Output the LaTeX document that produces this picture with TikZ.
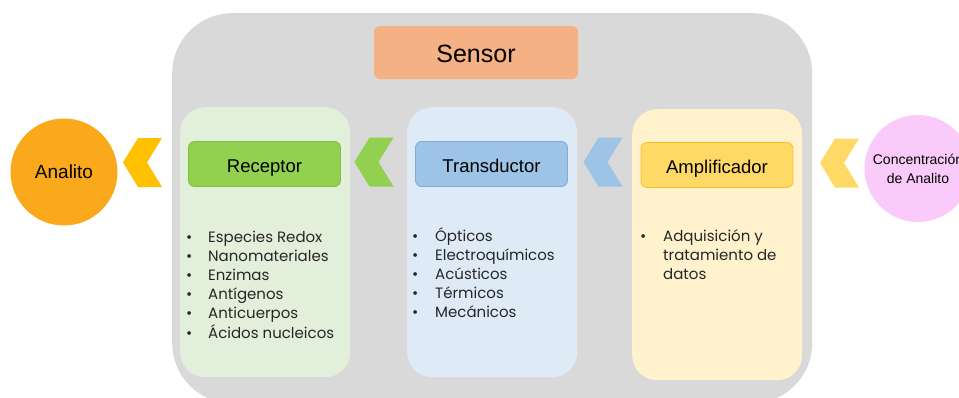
\documentclass[tikz,border=0pt]{standalone}
\usepackage{fontspec}
\setmainfont{Liberation Sans}
\newfontfamily\listfont{Poppins}
\definecolor{bggray}{HTML}{D9D9D9}
\definecolor{sensorfill}{HTML}{F4B183}
\definecolor{recfill}{HTML}{E2EFDA}
\definecolor{transfill}{HTML}{DEEBF7}
\definecolor{ampfill}{HTML}{FFF2CC}
\definecolor{rechdr}{HTML}{92D050}
\definecolor{rechdrline}{HTML}{7FBF3F}
\definecolor{transhdr}{HTML}{9DC3E6}
\definecolor{transhdrline}{HTML}{7FAADB}
\definecolor{amphdr}{HTML}{FFD966}
\definecolor{amphdrline}{HTML}{F2C230}
\definecolor{analitofill}{HTML}{FBA91C}
\definecolor{concfill}{HTML}{FACBFA}
\definecolor{chevyellow}{HTML}{FFC000}
\definecolor{chevgreen}{HTML}{92D050}
\definecolor{chevblue}{HTML}{9DC3E6}
\definecolor{chevlight}{HTML}{FFD966}
\definecolor{txt}{HTML}{262626}
\newcommand\chevron[3]{\fill[#3] (#1,#2) ++(19.5,-24.5) -- ++(-24,0) -- ++(-15,24.5) -- ++(15,24.5) -- ++(24,0) -- ++(-15,-24.5) -- cycle;}
\begin{document}
\begin{tikzpicture}[x=1pt,y=-1pt,
  colbox/.style={rounded corners=25pt, anchor=north west, inner sep=0pt, minimum width=170pt, minimum height=270pt},
  hdr/.style={rounded corners=6pt, line width=0.8pt, inner sep=0pt, minimum width=152pt, minimum height=45pt, text height=16pt, text depth=0pt, font=\fontsize{18.5}{20}\selectfont, text=black},
  circ/.style={circle, inner sep=0pt, minimum size=107pt, text=black},
  lst/.style={anchor=north west, inner sep=0pt, text=txt, font=\listfont\fontsize{15}{19}\selectfont, align=left}
]
\useasboundingbox (0,0) rectangle (959,397);
\clip (0,0) rectangle (959,397);
% background sensor area
\node[fill=bggray, rounded corners=60pt, anchor=north west, inner sep=0pt, minimum width=640pt, minimum height=390pt] (sensorbg) at (172,13) {};
\node[fill=sensorfill, rounded corners=6pt, inner sep=0pt, minimum width=204pt, minimum height=53pt, text height=19pt, text depth=0pt, font=\fontsize{25}{28}\selectfont, text=black] (sensor) at (476,52.5) {Sensor};
% columns
\node[colbox, fill=recfill] (reccol) at (180,107) {};
\node[colbox, fill=transfill] (transcol) at (407,107) {};
\node[colbox, fill=ampfill, minimum height=271pt] (ampcol) at (632,109) {};
% headers
\node[hdr, fill=rechdr, draw=rechdrline] (rechead) at (264.5,164) {Receptor};
\node[hdr, fill=transhdr, draw=transhdrline] (transhead) at (491.5,164) {Transductor};
\node[hdr, fill=amphdr, draw=amphdrline] (amphead) at (717,165) {Amplificador};
% lists
\node[lst] (reclist) at (186,229) {%
\begin{tabular}{@{}p{22pt}@{}l@{}}
\textbullet & Especies Redox\\
\textbullet & Nanomateriales\\
\textbullet & Enzimas\\
\textbullet & Antígenos\\
\textbullet & Anticuerpos\\
\textbullet & Ácidos nucleicos
\end{tabular}};
\node[lst] (translist) at (412,227) {%
\begin{tabular}{@{}p{23pt}@{}l@{}}
\textbullet & Ópticos\\
\textbullet & Electroquímicos\\
\textbullet & Acústicos\\
\textbullet & Térmicos\\
\textbullet & Mecánicos
\end{tabular}};
\node[lst] (amplist) at (640,228) {%
\begin{tabular}{@{}p{23pt}@{}l@{}}
\textbullet & Adquisición y\\
 & tratamiento de\\
 & datos
\end{tabular}};
% circles
\node[circ, fill=analitofill, font=\fontsize{19}{22}\selectfont] (analito) at (64,172) {Analito};
\node[circ, fill=concfill, align=center, font=\fontsize{14}{19}\selectfont] (conc) at (918,168.5) {Concentración\\de Analito};
% chevrons
\chevron{142.5}{162.5}{chevyellow}
\chevron{374}{162}{chevgreen}
\chevron{603}{162}{chevblue}
\chevron{839.5}{163}{chevlight}
\end{tikzpicture}
\end{document}
